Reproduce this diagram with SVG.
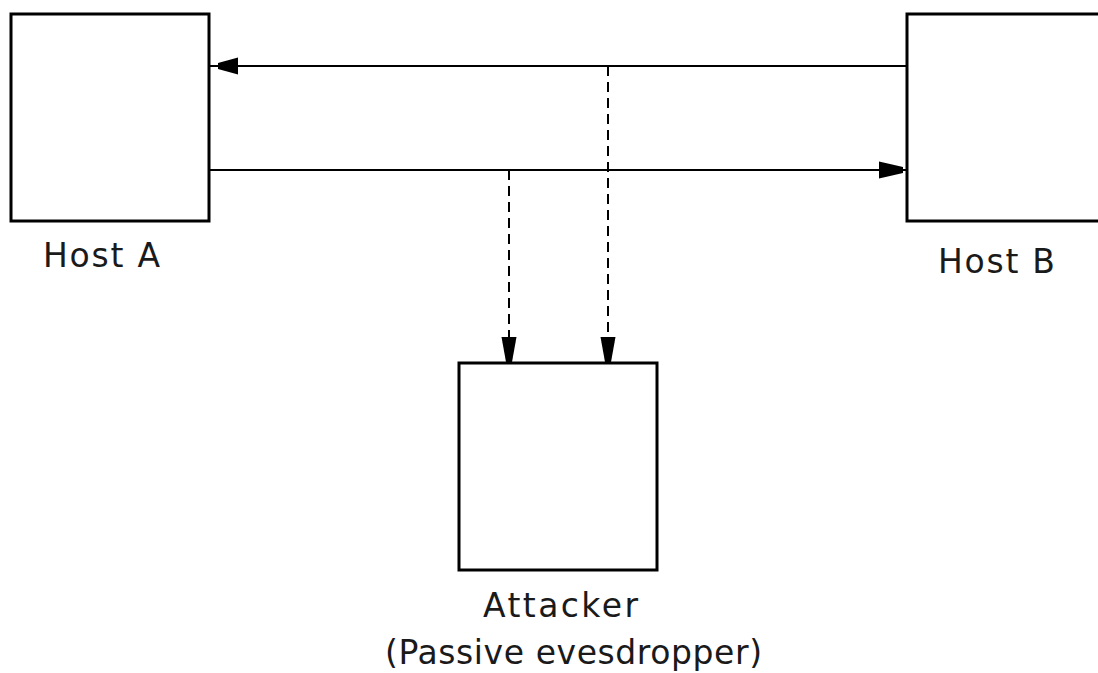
<svg xmlns="http://www.w3.org/2000/svg" width="1098" height="673" viewBox="0 0 1098 673">
<style>
.box{fill:#fff;stroke:#000;stroke-width:3}
.ln{fill:none;stroke:#000;stroke-width:2}
.dash{stroke-dasharray:10,6}
.head{fill:#000}
.lbl{font-family:"DejaVu Sans",Verdana,sans-serif;font-size:33px;fill:#1a1a1a;text-anchor:middle}
</style>
<g id="hostA">
<rect class="box" x="11" y="14" width="198" height="207"/>
<text class="lbl" x="101.5" y="267" textLength="117">Host A</text>
</g>
<g id="hostB">
<rect class="box" x="907" y="14" width="200" height="207"/>
<text class="lbl" x="996.5" y="273" textLength="117">Host B</text>
</g>
<g id="attacker">
<rect class="box" x="459" y="363" width="198" height="207"/>
<text class="lbl" x="560.5" y="617" textLength="155">Attacker</text>
<text class="lbl" x="573.5" y="664" textLength="377">(Passive evesdropper)</text>
</g>
<g id="connectors">
<path class="ln" d="M907,66 L209,66"/>
<polygon class="head" points="218,63 218,69 238,74.5 238,57.5"/>
<path class="ln" d="M209,170 L907,170"/>
<polygon class="head" points="903,167 903,173 879,178.5 879,161.5"/>
<path class="ln dash" d="M509,170 L509,362"/>
<polygon class="head" points="506,362 512,362 516.5,337 501.5,337"/>
<path class="ln dash" d="M608,66 L608,362"/>
<polygon class="head" points="605,362 611,362 615.5,337 600.5,337"/>
</g>
</svg>
